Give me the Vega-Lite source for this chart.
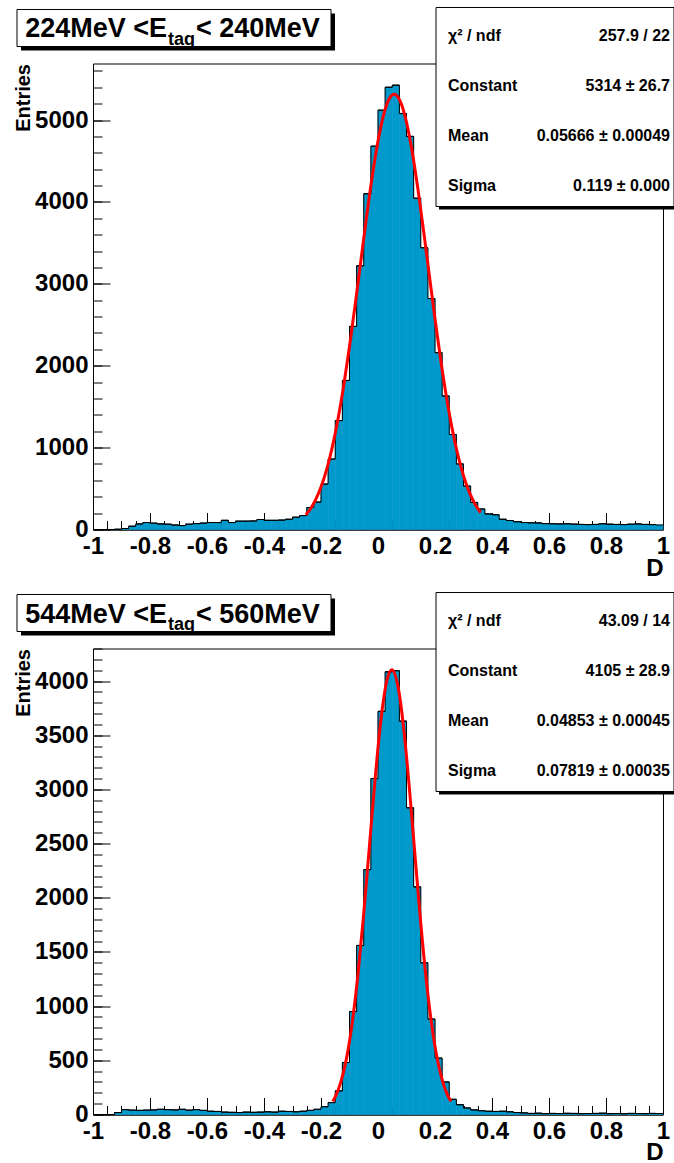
{
  "$schema": "https://vega.github.io/schema/vega-lite/v6.json",
  "padding": {"left": 12, "top": 5.5, "right": 0, "bottom": 0},
  "background": "white",
  "spacing": 119,
  "bounds": "flush",
  "datasets": {
    "top": [
      {"lo": -1, "hi": -0.975, "n": 0}, {"lo": -0.975, "hi": -0.95, "n": 0}, {"lo": -0.95, "hi": -0.925, "n": 0}, {"lo": -0.925, "hi": -0.9, "n": 3},
      {"lo": -0.9, "hi": -0.875, "n": 12}, {"lo": -0.875, "hi": -0.85, "n": 40}, {"lo": -0.85, "hi": -0.825, "n": 68}, {"lo": -0.825, "hi": -0.8, "n": 85},
      {"lo": -0.8, "hi": -0.775, "n": 78}, {"lo": -0.775, "hi": -0.75, "n": 68}, {"lo": -0.75, "hi": -0.725, "n": 65}, {"lo": -0.725, "hi": -0.7, "n": 55},
      {"lo": -0.7, "hi": -0.675, "n": 48}, {"lo": -0.675, "hi": -0.65, "n": 65}, {"lo": -0.65, "hi": -0.625, "n": 72}, {"lo": -0.625, "hi": -0.6, "n": 78},
      {"lo": -0.6, "hi": -0.575, "n": 85}, {"lo": -0.575, "hi": -0.55, "n": 85}, {"lo": -0.55, "hi": -0.525, "n": 112}, {"lo": -0.525, "hi": -0.5, "n": 85},
      {"lo": -0.5, "hi": -0.475, "n": 102}, {"lo": -0.475, "hi": -0.45, "n": 102}, {"lo": -0.45, "hi": -0.425, "n": 104}, {"lo": -0.425, "hi": -0.4, "n": 122},
      {"lo": -0.4, "hi": -0.375, "n": 112}, {"lo": -0.375, "hi": -0.35, "n": 112}, {"lo": -0.35, "hi": -0.325, "n": 115}, {"lo": -0.325, "hi": -0.3, "n": 125},
      {"lo": -0.3, "hi": -0.275, "n": 150}, {"lo": -0.275, "hi": -0.25, "n": 170}, {"lo": -0.25, "hi": -0.225, "n": 268}, {"lo": -0.225, "hi": -0.2, "n": 335},
      {"lo": -0.2, "hi": -0.175, "n": 555}, {"lo": -0.175, "hi": -0.15, "n": 860}, {"lo": -0.15, "hi": -0.125, "n": 1330}, {"lo": -0.125, "hi": -0.1, "n": 1820},
      {"lo": -0.1, "hi": -0.075, "n": 2480}, {"lo": -0.075, "hi": -0.05, "n": 3220}, {"lo": -0.05, "hi": -0.025, "n": 4100}, {"lo": -0.025, "hi": 0, "n": 4680},
      {"lo": 0, "hi": 0.025, "n": 5120}, {"lo": 0.025, "hi": 0.05, "n": 5400}, {"lo": 0.05, "hi": 0.075, "n": 5425}, {"lo": 0.075, "hi": 0.1, "n": 5080},
      {"lo": 0.1, "hi": 0.125, "n": 4800}, {"lo": 0.125, "hi": 0.15, "n": 4045}, {"lo": 0.15, "hi": 0.175, "n": 3440}, {"lo": 0.175, "hi": 0.2, "n": 2820},
      {"lo": 0.2, "hi": 0.225, "n": 2160}, {"lo": 0.225, "hi": 0.25, "n": 1630}, {"lo": 0.25, "hi": 0.275, "n": 1160}, {"lo": 0.275, "hi": 0.3, "n": 800},
      {"lo": 0.3, "hi": 0.325, "n": 530}, {"lo": 0.325, "hi": 0.35, "n": 330}, {"lo": 0.35, "hi": 0.375, "n": 250}, {"lo": 0.375, "hi": 0.4, "n": 190},
      {"lo": 0.4, "hi": 0.425, "n": 180}, {"lo": 0.425, "hi": 0.45, "n": 125}, {"lo": 0.45, "hi": 0.475, "n": 110}, {"lo": 0.475, "hi": 0.5, "n": 95},
      {"lo": 0.5, "hi": 0.525, "n": 85}, {"lo": 0.525, "hi": 0.55, "n": 82}, {"lo": 0.55, "hi": 0.575, "n": 80}, {"lo": 0.575, "hi": 0.6, "n": 72},
      {"lo": 0.6, "hi": 0.625, "n": 70}, {"lo": 0.625, "hi": 0.65, "n": 68}, {"lo": 0.65, "hi": 0.675, "n": 70}, {"lo": 0.675, "hi": 0.7, "n": 66},
      {"lo": 0.7, "hi": 0.725, "n": 62}, {"lo": 0.725, "hi": 0.75, "n": 60}, {"lo": 0.75, "hi": 0.775, "n": 62}, {"lo": 0.775, "hi": 0.8, "n": 70},
      {"lo": 0.8, "hi": 0.825, "n": 65}, {"lo": 0.825, "hi": 0.85, "n": 62}, {"lo": 0.85, "hi": 0.875, "n": 60}, {"lo": 0.875, "hi": 0.9, "n": 65},
      {"lo": 0.9, "hi": 0.925, "n": 68}, {"lo": 0.925, "hi": 0.95, "n": 62}, {"lo": 0.95, "hi": 0.975, "n": 60}, {"lo": 0.975, "hi": 1, "n": 55}
    ],
    "bot": [
      {"lo": -1, "hi": -0.975, "n": 0}, {"lo": -0.975, "hi": -0.95, "n": 0}, {"lo": -0.95, "hi": -0.925, "n": 0}, {"lo": -0.925, "hi": -0.9, "n": 18},
      {"lo": -0.9, "hi": -0.875, "n": 45}, {"lo": -0.875, "hi": -0.85, "n": 40}, {"lo": -0.85, "hi": -0.825, "n": 38}, {"lo": -0.825, "hi": -0.8, "n": 40},
      {"lo": -0.8, "hi": -0.775, "n": 42}, {"lo": -0.775, "hi": -0.75, "n": 48}, {"lo": -0.75, "hi": -0.725, "n": 45}, {"lo": -0.725, "hi": -0.7, "n": 42},
      {"lo": -0.7, "hi": -0.675, "n": 48}, {"lo": -0.675, "hi": -0.65, "n": 40}, {"lo": -0.65, "hi": -0.625, "n": 45}, {"lo": -0.625, "hi": -0.6, "n": 38},
      {"lo": -0.6, "hi": -0.575, "n": 30}, {"lo": -0.575, "hi": -0.55, "n": 28}, {"lo": -0.55, "hi": -0.525, "n": 22}, {"lo": -0.525, "hi": -0.5, "n": 20},
      {"lo": -0.5, "hi": -0.475, "n": 18}, {"lo": -0.475, "hi": -0.45, "n": 22}, {"lo": -0.45, "hi": -0.425, "n": 20}, {"lo": -0.425, "hi": -0.4, "n": 22},
      {"lo": -0.4, "hi": -0.375, "n": 25}, {"lo": -0.375, "hi": -0.35, "n": 22}, {"lo": -0.35, "hi": -0.325, "n": 30}, {"lo": -0.325, "hi": -0.3, "n": 28},
      {"lo": -0.3, "hi": -0.275, "n": 25}, {"lo": -0.275, "hi": -0.25, "n": 30}, {"lo": -0.25, "hi": -0.225, "n": 38}, {"lo": -0.225, "hi": -0.2, "n": 48},
      {"lo": -0.2, "hi": -0.175, "n": 72}, {"lo": -0.175, "hi": -0.15, "n": 110}, {"lo": -0.15, "hi": -0.125, "n": 218}, {"lo": -0.125, "hi": -0.1, "n": 480},
      {"lo": -0.1, "hi": -0.075, "n": 950}, {"lo": -0.075, "hi": -0.05, "n": 1560}, {"lo": -0.05, "hi": -0.025, "n": 2260}, {"lo": -0.025, "hi": 0, "n": 3100},
      {"lo": 0, "hi": 0.025, "n": 3720}, {"lo": 0.025, "hi": 0.05, "n": 4085}, {"lo": 0.05, "hi": 0.075, "n": 4095}, {"lo": 0.075, "hi": 0.1, "n": 3630},
      {"lo": 0.1, "hi": 0.125, "n": 2830}, {"lo": 0.125, "hi": 0.15, "n": 2100}, {"lo": 0.15, "hi": 0.175, "n": 1400}, {"lo": 0.175, "hi": 0.2, "n": 880},
      {"lo": 0.2, "hi": 0.225, "n": 520}, {"lo": 0.225, "hi": 0.25, "n": 300}, {"lo": 0.25, "hi": 0.275, "n": 140}, {"lo": 0.275, "hi": 0.3, "n": 90},
      {"lo": 0.3, "hi": 0.325, "n": 60}, {"lo": 0.325, "hi": 0.35, "n": 42}, {"lo": 0.35, "hi": 0.375, "n": 35}, {"lo": 0.375, "hi": 0.4, "n": 30},
      {"lo": 0.4, "hi": 0.425, "n": 28}, {"lo": 0.425, "hi": 0.45, "n": 30}, {"lo": 0.45, "hi": 0.475, "n": 25}, {"lo": 0.475, "hi": 0.5, "n": 18},
      {"lo": 0.5, "hi": 0.525, "n": 15}, {"lo": 0.525, "hi": 0.55, "n": 10}, {"lo": 0.55, "hi": 0.575, "n": 12}, {"lo": 0.575, "hi": 0.6, "n": 8},
      {"lo": 0.6, "hi": 0.625, "n": 10}, {"lo": 0.625, "hi": 0.65, "n": 9}, {"lo": 0.65, "hi": 0.675, "n": 11}, {"lo": 0.675, "hi": 0.7, "n": 10},
      {"lo": 0.7, "hi": 0.725, "n": 8}, {"lo": 0.725, "hi": 0.75, "n": 9}, {"lo": 0.75, "hi": 0.775, "n": 10}, {"lo": 0.775, "hi": 0.8, "n": 12},
      {"lo": 0.8, "hi": 0.825, "n": 8}, {"lo": 0.825, "hi": 0.85, "n": 9}, {"lo": 0.85, "hi": 0.875, "n": 7}, {"lo": 0.875, "hi": 0.9, "n": 10},
      {"lo": 0.9, "hi": 0.925, "n": 9}, {"lo": 0.925, "hi": 0.95, "n": 8}, {"lo": 0.95, "hi": 0.975, "n": 10}, {"lo": 0.975, "hi": 1, "n": 9}
    ],
    "fitTop": [
      {"x": -0.253, "y": 180}, {"x": -0.24, "y": 238}, {"x": -0.22, "y": 356}, {"x": -0.2, "y": 519}, {"x": -0.18, "y": 735},
      {"x": -0.16, "y": 1012}, {"x": -0.14, "y": 1356}, {"x": -0.12, "y": 1765}, {"x": -0.1, "y": 2234}, {"x": -0.08, "y": 2747},
      {"x": -0.06, "y": 3285}, {"x": -0.04, "y": 3820}, {"x": -0.02, "y": 4317}, {"x": 0, "y": 4744}, {"x": 0.02, "y": 5067},
      {"x": 0.04, "y": 5262}, {"x": 0.0567, "y": 5314}, {"x": 0.08, "y": 5213}, {"x": 0.1, "y": 4973}, {"x": 0.12, "y": 4613},
      {"x": 0.14, "y": 4159}, {"x": 0.16, "y": 3646}, {"x": 0.18, "y": 3107}, {"x": 0.2, "y": 2574}, {"x": 0.22, "y": 2072},
      {"x": 0.24, "y": 1622}, {"x": 0.26, "y": 1235}, {"x": 0.28, "y": 914}, {"x": 0.3, "y": 657}, {"x": 0.32, "y": 460},
      {"x": 0.34, "y": 313}, {"x": 0.36, "y": 206}
    ],
    "fitBot": [
      {"x": -0.159, "y": 121}, {"x": -0.15, "y": 163}, {"x": -0.13, "y": 303}, {"x": -0.11, "y": 525}, {"x": -0.09, "y": 855},
      {"x": -0.07, "y": 1301}, {"x": -0.05, "y": 1855}, {"x": -0.03, "y": 2479}, {"x": -0.01, "y": 3102}, {"x": 0.01, "y": 3636},
      {"x": 0.03, "y": 3991}, {"x": 0.0485, "y": 4105}, {"x": 0.07, "y": 3953}, {"x": 0.09, "y": 3567}, {"x": 0.11, "y": 3014},
      {"x": 0.13, "y": 2385}, {"x": 0.15, "y": 1768}, {"x": 0.17, "y": 1228}, {"x": 0.19, "y": 799}, {"x": 0.21, "y": 487},
      {"x": 0.23, "y": 278}, {"x": 0.245, "y": 175}, {"x": 0.256, "y": 121}
    ]
  },
  "vconcat": [
    {
      "width": 570,
      "height": 466,
      "resolve": {"axis": {"x": "independent", "y": "independent"}},
      "layer": [
        {
          "data": {"name": "top"},
          "mark": {"type": "rect", "fill": "#0099cc", "stroke": "#0099cc", "strokeWidth": 0.6},
          "encoding": {
            "x": {"field": "lo", "type": "quantitative", "scale": {"domain": [-1, 1], "nice": false, "zero": false},
              "axis": {"orient": "bottom", "values": [-1, -0.8, -0.6, -0.4, -0.2, 0, 0.2, 0.4, 0.6, 0.8, 1], "tickSize": -17, "labelPadding": 22,
                "labelExpr": "replace(format(datum.value, '~g'), '\u2212', '-')", "domain": true,
                "title": "D", "titleX": 570, "titleY": 46, "titleAlign": "right", "titleBaseline": "alphabetic", "titleFontSize": 24}},
            "x2": {"field": "hi"},
            "y": {"field": "n", "type": "quantitative", "scale": {"domain": [0, 5690], "nice": false},
              "axis": {"orient": "left", "values": [0, 1000, 2000, 3000, 4000, 5000], "format": "d", "tickSize": -17, "labelPadding": 22, "domain": true,
                "title": "Entries", "titleX": -70, "titleY": 0, "titleAngle": -90, "titleAlign": "right", "titleBaseline": "middle", "titleFontSize": 20}},
            "y2": {"datum": 0}
          }
        },
        {
          "data": {"name": "top"},
          "mark": {"type": "rule", "color": "black", "strokeWidth": 1},
          "encoding": {
            "x": {"field": "lo", "type": "quantitative", "scale": {"domain": [-1, 1], "nice": false, "zero": false},
              "axis": {"orient": "bottom", "values": [-1, -0.95, -0.9, -0.85, -0.8, -0.75, -0.7, -0.65, -0.6, -0.55, -0.5, -0.45, -0.4, -0.35, -0.3, -0.25, -0.2, -0.15, -0.1, -0.05, 0, 0.05, 0.1, 0.15, 0.2, 0.25, 0.3, 0.35, 0.4, 0.45, 0.5, 0.55, 0.6, 0.65, 0.7, 0.75, 0.8, 0.85, 0.9, 0.95, 1],
                "tickSize": -9, "labels": false, "domain": false, "title": null}},
            "x2": {"field": "hi"},
            "y": {"field": "n", "type": "quantitative", "scale": {"domain": [0, 5690], "nice": false},
              "axis": {"orient": "left", "values": [0, 200, 400, 600, 800, 1000, 1200, 1400, 1600, 1800, 2000, 2200, 2400, 2600, 2800, 3000, 3200, 3400, 3600, 3800, 4000, 4200, 4400, 4600, 4800, 5000, 5200, 5400, 5600],
                "tickSize": -9, "labels": false, "domain": false, "title": null}}
          }
        },
        {
          "data": {"name": "top"},
          "mark": {"type": "line", "interpolate": "step-after", "color": "black", "strokeWidth": 1},
          "encoding": {
            "x": {"field": "lo", "type": "quantitative", "scale": {"domain": [-1, 1], "nice": false, "zero": false}, "axis": null},
            "y": {"field": "n", "type": "quantitative", "scale": {"domain": [0, 5690], "nice": false}, "axis": null}
          }
        },
        {
          "data": {"name": "fitTop"},
          "mark": {"type": "line", "interpolate": "monotone", "color": "#ff0000", "strokeWidth": 3},
          "encoding": {
            "x": {"field": "x", "type": "quantitative", "scale": {"domain": [-1, 1], "nice": false, "zero": false}, "axis": null},
            "y": {"field": "y", "type": "quantitative", "scale": {"domain": [0, 5690], "nice": false}, "axis": null}
          }
        },
        {
          "data": {"values": [{}]},
          "mark": {"type": "rect", "fill": "black", "xOffset": 4, "x2Offset": 4, "yOffset": 4, "y2Offset": 4},
          "encoding": {
            "x": {"datum": -1.26667, "type": "quantitative", "scale": {"domain": [-1, 1], "nice": false, "zero": false}, "axis": null},
            "x2": {"datum": -0.16491},
            "y": {"datum": 6349.4, "type": "quantitative", "scale": {"domain": [0, 5690], "nice": false}, "axis": null},
            "y2": {"datum": 5897.6}
          }
        },
        {
          "data": {"values": [{}]},
          "mark": {"type": "rect", "fill": "white", "stroke": "black", "strokeWidth": 1},
          "encoding": {
            "x": {"datum": -1.26667, "type": "quantitative", "scale": {"domain": [-1, 1], "nice": false, "zero": false}, "axis": null},
            "x2": {"datum": -0.16491},
            "y": {"datum": 6349.4, "type": "quantitative", "scale": {"domain": [0, 5690], "nice": false}, "axis": null},
            "y2": {"datum": 5897.6}
          }
        },
        {
          "data": {"values": [{}]},
          "mark": {"type": "text", "align": "right", "baseline": "alphabetic", "font": "Liberation Sans", "fontSize": 27, "fontWeight": "bold", "color": "black"},
          "encoding": {
            "x": {"datum": -0.74035, "type": "quantitative", "scale": {"domain": [-1, 1], "nice": false, "zero": false}, "axis": null},
            "y": {"datum": 6007.5, "type": "quantitative", "scale": {"domain": [0, 5690], "nice": false}, "axis": null},
            "text": {"value": "224MeV <E"}
          }
        },
        {
          "data": {"values": [{}]},
          "mark": {"type": "text", "align": "left", "baseline": "alphabetic", "font": "Liberation Sans", "fontSize": 18, "fontWeight": "bold", "color": "black"},
          "encoding": {
            "x": {"datum": -0.73684, "type": "quantitative", "scale": {"domain": [-1, 1], "nice": false, "zero": false}, "axis": null},
            "y": {"datum": 5909.8, "type": "quantitative", "scale": {"domain": [0, 5690], "nice": false}, "axis": null},
            "text": {"value": "tag"}
          }
        },
        {
          "data": {"values": [{}]},
          "mark": {"type": "text", "align": "left", "baseline": "alphabetic", "font": "Liberation Sans", "fontSize": 27, "fontWeight": "bold", "color": "black"},
          "encoding": {
            "x": {"datum": -0.6386, "type": "quantitative", "scale": {"domain": [-1, 1], "nice": false, "zero": false}, "axis": null},
            "y": {"datum": 6007.5, "type": "quantitative", "scale": {"domain": [0, 5690], "nice": false}, "axis": null},
            "text": {"value": "< 240MeV"}
          }
        },
        {
          "data": {"values": [{}]},
          "mark": {"type": "rect", "fill": "black", "xOffset": 3, "yOffset": 3, "y2Offset": 3},
          "encoding": {
            "x": {"datum": 0.20351, "type": "quantitative", "scale": {"domain": [-1, 1], "nice": false, "zero": false}, "axis": null},
            "x2": {"datum": 1.0386},
            "y": {"datum": 6373.8, "type": "quantitative", "scale": {"domain": [0, 5690], "nice": false}, "axis": null},
            "y2": {"datum": 3943.9}
          }
        },
        {
          "data": {"values": [{}]},
          "mark": {"type": "rect", "fill": "white", "stroke": "black", "strokeWidth": 1},
          "encoding": {
            "x": {"datum": 0.20351, "type": "quantitative", "scale": {"domain": [-1, 1], "nice": false, "zero": false}, "axis": null},
            "x2": {"datum": 1.0386},
            "y": {"datum": 6373.8, "type": "quantitative", "scale": {"domain": [0, 5690], "nice": false}, "axis": null},
            "y2": {"datum": 3943.9}
          }
        },
        {
          "data": {"values": [{}]},
          "mark": {"type": "text", "align": "left", "baseline": "alphabetic", "font": "Liberation Sans", "fontSize": 16, "fontWeight": "bold", "color": "black", "lineHeight": 50},
          "encoding": {
            "x": {"datum": 0.24561, "type": "quantitative", "scale": {"domain": [-1, 1], "nice": false, "zero": false}, "axis": null},
            "y": {"datum": 5970.8, "type": "quantitative", "scale": {"domain": [0, 5690], "nice": false}, "axis": null},
            "text": {"value": ["χ² / ndf", "Constant", "Mean", "Sigma"]}
          }
        },
        {
          "data": {"values": [{}]},
          "mark": {"type": "text", "align": "right", "baseline": "alphabetic", "font": "Liberation Sans", "fontSize": 16, "fontWeight": "bold", "color": "black", "lineHeight": 50},
          "encoding": {
            "x": {"datum": 1.02456, "type": "quantitative", "scale": {"domain": [-1, 1], "nice": false, "zero": false}, "axis": null},
            "y": {"datum": 5970.8, "type": "quantitative", "scale": {"domain": [0, 5690], "nice": false}, "axis": null},
            "text": {"value": ["257.9 / 22", "5314 ± 26.7", "0.05666 ± 0.00049", "0.119 ± 0.000"]}
          }
        }
      ]
    },
    {
      "width": 570,
      "height": 466,
      "resolve": {"axis": {"x": "independent", "y": "independent"}},
      "layer": [
        {
          "data": {"name": "bot"},
          "mark": {"type": "rect", "fill": "#0099cc", "stroke": "#0099cc", "strokeWidth": 0.6},
          "encoding": {
            "x": {"field": "lo", "type": "quantitative", "scale": {"domain": [-1, 1], "nice": false, "zero": false},
              "axis": {"orient": "bottom", "values": [-1, -0.8, -0.6, -0.4, -0.2, 0, 0.2, 0.4, 0.6, 0.8, 1], "tickSize": -17, "labelPadding": 22,
                "labelExpr": "replace(format(datum.value, '~g'), '\u2212', '-')", "domain": true,
                "title": "D", "titleX": 570, "titleY": 45, "titleAlign": "right", "titleBaseline": "alphabetic", "titleFontSize": 24}},
            "x2": {"field": "hi"},
            "y": {"field": "n", "type": "quantitative", "scale": {"domain": [0, 4300], "nice": false},
              "axis": {"orient": "left", "values": [0, 500, 1000, 1500, 2000, 2500, 3000, 3500, 4000], "format": "d", "tickSize": -17, "labelPadding": 22, "domain": true,
                "title": "Entries", "titleX": -70, "titleY": 0, "titleAngle": -90, "titleAlign": "right", "titleBaseline": "middle", "titleFontSize": 20}},
            "y2": {"datum": 0}
          }
        },
        {
          "data": {"name": "bot"},
          "mark": {"type": "rule", "color": "black", "strokeWidth": 1},
          "encoding": {
            "x": {"field": "lo", "type": "quantitative", "scale": {"domain": [-1, 1], "nice": false, "zero": false},
              "axis": {"orient": "bottom", "values": [-1, -0.95, -0.9, -0.85, -0.8, -0.75, -0.7, -0.65, -0.6, -0.55, -0.5, -0.45, -0.4, -0.35, -0.3, -0.25, -0.2, -0.15, -0.1, -0.05, 0, 0.05, 0.1, 0.15, 0.2, 0.25, 0.3, 0.35, 0.4, 0.45, 0.5, 0.55, 0.6, 0.65, 0.7, 0.75, 0.8, 0.85, 0.9, 0.95, 1],
                "tickSize": -9, "labels": false, "domain": false, "title": null}},
            "x2": {"field": "hi"},
            "y": {"field": "n", "type": "quantitative", "scale": {"domain": [0, 4300], "nice": false},
              "axis": {"orient": "left", "values": [0, 100, 200, 300, 400, 500, 600, 700, 800, 900, 1000, 1100, 1200, 1300, 1400, 1500, 1600, 1700, 1800, 1900, 2000, 2100, 2200, 2300, 2400, 2500, 2600, 2700, 2800, 2900, 3000, 3100, 3200, 3300, 3400, 3500, 3600, 3700, 3800, 3900, 4000, 4100, 4200, 4300],
                "tickSize": -9, "labels": false, "domain": false, "title": null}}
          }
        },
        {
          "data": {"name": "bot"},
          "mark": {"type": "line", "interpolate": "step-after", "color": "black", "strokeWidth": 1},
          "encoding": {
            "x": {"field": "lo", "type": "quantitative", "scale": {"domain": [-1, 1], "nice": false, "zero": false}, "axis": null},
            "y": {"field": "n", "type": "quantitative", "scale": {"domain": [0, 4300], "nice": false}, "axis": null}
          }
        },
        {
          "data": {"name": "fitBot"},
          "mark": {"type": "line", "interpolate": "monotone", "color": "#ff0000", "strokeWidth": 3},
          "encoding": {
            "x": {"field": "x", "type": "quantitative", "scale": {"domain": [-1, 1], "nice": false, "zero": false}, "axis": null},
            "y": {"field": "y", "type": "quantitative", "scale": {"domain": [0, 4300], "nice": false}, "axis": null}
          }
        },
        {
          "data": {"values": [{}]},
          "mark": {"type": "rect", "fill": "black", "xOffset": 4, "x2Offset": 4, "yOffset": 4, "y2Offset": 4},
          "encoding": {
            "x": {"datum": -1.26667, "type": "quantitative", "scale": {"domain": [-1, 1], "nice": false, "zero": false}, "axis": null},
            "x2": {"datum": -0.16491},
            "y": {"datum": 4798.3, "type": "quantitative", "scale": {"domain": [0, 4300], "nice": false}, "axis": null},
            "y2": {"datum": 4456.9}
          }
        },
        {
          "data": {"values": [{}]},
          "mark": {"type": "rect", "fill": "white", "stroke": "black", "strokeWidth": 1},
          "encoding": {
            "x": {"datum": -1.26667, "type": "quantitative", "scale": {"domain": [-1, 1], "nice": false, "zero": false}, "axis": null},
            "x2": {"datum": -0.16491},
            "y": {"datum": 4798.3, "type": "quantitative", "scale": {"domain": [0, 4300], "nice": false}, "axis": null},
            "y2": {"datum": 4456.9}
          }
        },
        {
          "data": {"values": [{}]},
          "mark": {"type": "text", "align": "right", "baseline": "alphabetic", "font": "Liberation Sans", "fontSize": 27, "fontWeight": "bold", "color": "black"},
          "encoding": {
            "x": {"datum": -0.74035, "type": "quantitative", "scale": {"domain": [-1, 1], "nice": false, "zero": false}, "axis": null},
            "y": {"datum": 4539.9, "type": "quantitative", "scale": {"domain": [0, 4300], "nice": false}, "axis": null},
            "text": {"value": "544MeV <E"}
          }
        },
        {
          "data": {"values": [{}]},
          "mark": {"type": "text", "align": "left", "baseline": "alphabetic", "font": "Liberation Sans", "fontSize": 18, "fontWeight": "bold", "color": "black"},
          "encoding": {
            "x": {"datum": -0.73684, "type": "quantitative", "scale": {"domain": [-1, 1], "nice": false, "zero": false}, "axis": null},
            "y": {"datum": 4466.1, "type": "quantitative", "scale": {"domain": [0, 4300], "nice": false}, "axis": null},
            "text": {"value": "tag"}
          }
        },
        {
          "data": {"values": [{}]},
          "mark": {"type": "text", "align": "left", "baseline": "alphabetic", "font": "Liberation Sans", "fontSize": 27, "fontWeight": "bold", "color": "black"},
          "encoding": {
            "x": {"datum": -0.6386, "type": "quantitative", "scale": {"domain": [-1, 1], "nice": false, "zero": false}, "axis": null},
            "y": {"datum": 4539.9, "type": "quantitative", "scale": {"domain": [0, 4300], "nice": false}, "axis": null},
            "text": {"value": "< 560MeV"}
          }
        },
        {
          "data": {"values": [{}]},
          "mark": {"type": "rect", "fill": "black", "xOffset": 3, "yOffset": 3, "y2Offset": 3},
          "encoding": {
            "x": {"datum": 0.20351, "type": "quantitative", "scale": {"domain": [-1, 1], "nice": false, "zero": false}, "axis": null},
            "x2": {"datum": 1.0386},
            "y": {"datum": 4816.8, "type": "quantitative", "scale": {"domain": [0, 4300], "nice": false}, "axis": null},
            "y2": {"datum": 2980.5}
          }
        },
        {
          "data": {"values": [{}]},
          "mark": {"type": "rect", "fill": "white", "stroke": "black", "strokeWidth": 1},
          "encoding": {
            "x": {"datum": 0.20351, "type": "quantitative", "scale": {"domain": [-1, 1], "nice": false, "zero": false}, "axis": null},
            "x2": {"datum": 1.0386},
            "y": {"datum": 4816.8, "type": "quantitative", "scale": {"domain": [0, 4300], "nice": false}, "axis": null},
            "y2": {"datum": 2980.5}
          }
        },
        {
          "data": {"values": [{}]},
          "mark": {"type": "text", "align": "left", "baseline": "alphabetic", "font": "Liberation Sans", "fontSize": 16, "fontWeight": "bold", "color": "black", "lineHeight": 50},
          "encoding": {
            "x": {"datum": 0.24561, "type": "quantitative", "scale": {"domain": [-1, 1], "nice": false, "zero": false}, "axis": null},
            "y": {"datum": 4512.2, "type": "quantitative", "scale": {"domain": [0, 4300], "nice": false}, "axis": null},
            "text": {"value": ["χ² / ndf", "Constant", "Mean", "Sigma"]}
          }
        },
        {
          "data": {"values": [{}]},
          "mark": {"type": "text", "align": "right", "baseline": "alphabetic", "font": "Liberation Sans", "fontSize": 16, "fontWeight": "bold", "color": "black", "lineHeight": 50},
          "encoding": {
            "x": {"datum": 1.02456, "type": "quantitative", "scale": {"domain": [-1, 1], "nice": false, "zero": false}, "axis": null},
            "y": {"datum": 4512.2, "type": "quantitative", "scale": {"domain": [0, 4300], "nice": false}, "axis": null},
            "text": {"value": ["43.09 / 14", "4105 ± 28.9", "0.04853 ± 0.00045", "0.07819 ± 0.00035"]}
          }
        }
      ]
    }
  ],
  "config": {
    "view": {"stroke": "black", "strokeWidth": 1},
    "axis": {
      "labelFont": "Liberation Sans", "labelFontWeight": "bold", "labelFontSize": 24, "labelColor": "black",
      "tickColor": "black", "tickWidth": 1, "domainColor": "black", "domainWidth": 1,
      "titleFont": "Liberation Sans", "titleFontWeight": "bold", "titleColor": "black",
      "grid": false, "labelFlush": false, "labelOverlap": false, "labelBound": false, "zindex": 1
    },
    "text": {"font": "Liberation Sans"}
  }
}
